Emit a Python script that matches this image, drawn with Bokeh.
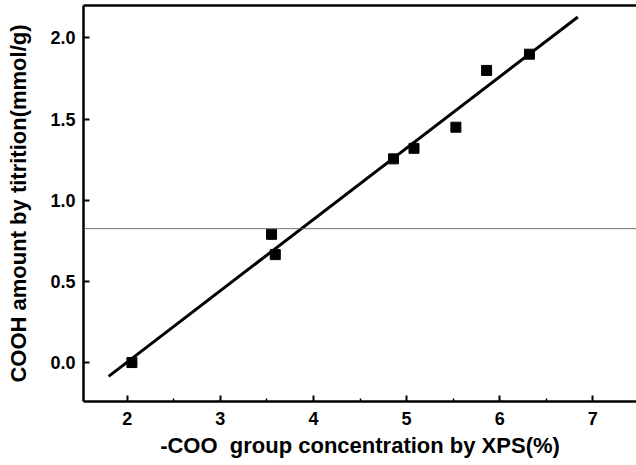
import numpy as np
from bokeh.plotting import figure
from bokeh.models import LinearAxis, Span, FixedTicker, Range1d
from bokeh.embed import file_html
from bokeh.resources import INLINE

# -COO group concentration by XPS (%) and COOH amount by titration (mmol/g)
xps_coo = [2.05, 3.55, 3.59, 4.86, 5.08, 5.53, 5.86, 6.32]
cooh_titration = [0.00, 0.79, 0.665, 1.255, 1.32, 1.45, 1.80, 1.90]

# extent of the fitted line along x
fit_x_range = [1.80, 6.84]

x_ticks = [2, 3, 4, 5, 6, 7]
y_ticks = [0.0, 0.5, 1.0, 1.5, 2.0]
y_tick_labels = {0.0: "0.0", 0.5: "0.5", 1.0: "1.0", 1.5: "1.5", 2.0: "2.0"}

# faint horizontal rule across the sheet
rule_level = 0.825

slope, intercept = np.polyfit(xps_coo, cooh_titration, 1)
fit_x = np.array(fit_x_range)
fit_y = slope * fit_x + intercept

FONT = "Liberation Sans"

p = figure(
    width=636, height=465,
    x_range=Range1d(1.53, 7.47), y_range=Range1d(-0.24, 2.2),
    output_backend="svg", toolbar_location=None,
    min_border_left=83, min_border_right=0, min_border_top=5, min_border_bottom=64,
    x_axis_label="-COO\u00a0\u00a0group concentration by XPS(%)",
    y_axis_label="COOH amount by titrition(mmol/g)",
)
p.outline_line_color = None
p.xgrid.visible = False
p.ygrid.visible = False
p.background_fill_color = "white"
p.border_fill_color = "white"

bottom = p.below[0]
left = p.left[0]

for ax in (bottom, left):
    ax.axis_line_width = 2.5
    ax.axis_line_color = "black"
    ax.major_tick_in = 6
    ax.major_tick_out = 0
    ax.minor_tick_in = 3
    ax.minor_tick_out = 0
    ax.major_tick_line_width = 2
    ax.minor_tick_line_width = 1.5
    ax.major_label_text_font = FONT
    ax.major_label_text_font_style = "bold"
    ax.major_label_text_font_size = "18px"
    ax.major_label_text_color = "black"
    ax.axis_label_text_font = FONT
    ax.axis_label_text_font_style = "bold"
    ax.axis_label_text_font_size = "22px"
    ax.axis_label_text_color = "black"

bottom.ticker = FixedTicker(ticks=x_ticks, minor_ticks=[t + 0.5 for t in x_ticks[:-1]])
bottom.major_label_standoff = 10
bottom.axis_label_standoff = 5
left.ticker = FixedTicker(ticks=y_ticks, minor_ticks=[])
left.major_label_overrides = y_tick_labels
left.major_label_standoff = 8
left.axis_label_standoff = 16

# top frame edge, a bare axis line
top = LinearAxis(ticker=FixedTicker(ticks=[], minor_ticks=[]),
                 major_label_text_font_size="0px", major_label_standoff=0,
                 major_tick_in=0, major_tick_out=0, minor_tick_in=0, minor_tick_out=0,
                 axis_line_width=2.5, axis_line_color="black")
p.add_layout(top, "above")

p.add_layout(Span(location=rule_level, dimension="width",
                  line_color="#555555", line_width=1, line_alpha=0.8))

p.line(fit_x, fit_y, line_color="black", line_width=3)
p.scatter(xps_coo, cooh_titration, marker="square", size=10,
          fill_color="black", line_color="black")

open("out.html", "w").write(file_html(p, INLINE))
